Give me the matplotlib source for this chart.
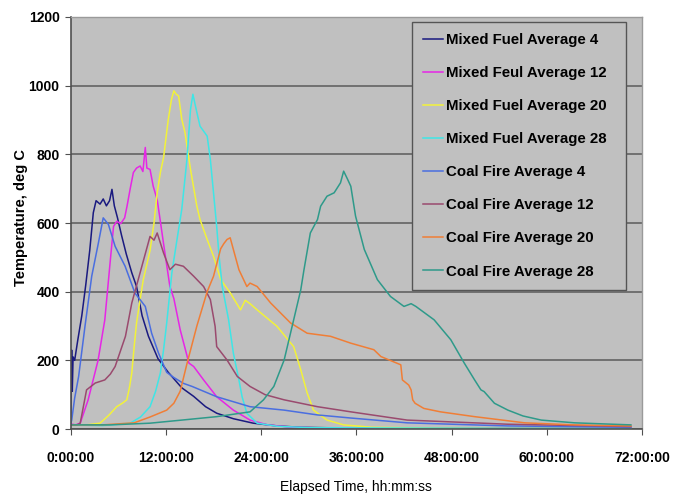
import numpy as np
import matplotlib
matplotlib.use('Agg')
import matplotlib.pyplot as plt

#%%

# Data (hours elapsed, temperature deg C)

mf4_h = [0, 0.12, 0.2, 0.3, 0.5, 0.9, 1.4, 1.9, 2.4, 2.85, 3.2, 3.7, 4.1, 4.5, 4.9, 5.2, 5.5, 5.9, 6.4,
         7.0, 7.7, 8.3, 9.0, 9.8, 11.0, 12.3, 14.0, 15.5, 17.0, 18.4, 20.5, 23.0, 26.0, 29.0, 34.0,
         42.0, 52.0, 62.0, 70.6]
mf4_t = [20, 230, 110, 210, 200, 260, 330, 420, 520, 630, 665, 655, 670, 650, 665, 698, 650, 615, 565,
         510, 455, 415, 330, 270, 205, 165, 120, 95, 65, 46, 30, 17, 9, 5, 3,
         3, 2, 2, 2]

mf12_h = [0, 0.6, 1.2, 2.2, 3.45, 4.3, 5.0, 5.4, 5.8, 6.3, 6.8, 7.1, 7.5, 7.9, 8.3, 8.75, 9.1, 9.4, 9.6,
          10.0, 10.4, 10.9, 11.3, 11.7, 12.5, 13.0, 13.8, 14.9, 15.5, 16.75, 18.4, 20.5, 22.6, 24.8,
          28.0, 34.0, 42.0, 52.0, 62.0, 70.6]
mf12_t = [15, 12, 17, 85, 200, 318, 493, 590, 605, 598, 615, 649, 700, 747, 760, 766, 750, 820, 760,
          756, 707, 668, 605, 540, 415, 380, 289, 192, 182, 143, 94, 55, 26, 12,
          5, 2, 2, 2, 2, 2]

mf20_h = [0, 2.0, 3.7, 4.8, 5.8, 6.5, 7.07, 7.4, 7.7, 8.0, 8.3, 8.7, 9.15, 9.6, 10.0, 10.5, 10.9, 11.3,
          11.7, 12.3, 12.7, 13.0, 13.3, 13.6, 14.0, 14.4, 15.1, 15.9, 16.3, 17.2, 18.0, 18.9, 20.1,
          21.4, 22.0, 22.6, 23.5, 26.0, 28.1, 29.0, 29.8, 30.6, 32.3, 34.4, 38.0, 45.0, 55.0, 70.6]
mf20_t = [12, 12, 17, 40, 65, 75, 85, 120, 163, 240, 309, 370, 435, 480, 520, 600, 688, 747,
          790, 902, 960, 985, 975, 970, 902, 864, 756, 649, 610, 552, 503, 435, 397,
          347, 375, 365, 347, 299, 240, 172, 105, 55, 26, 12, 5, 3, 2, 2]

mf28_h = [0, 4.0, 7.5, 8.8, 10.0, 10.7, 11.3, 11.7, 12.1, 12.75, 13.0, 13.4, 14.0, 14.65, 15.1, 15.4,
          15.9, 16.3, 17.2, 17.6, 18.0, 18.4, 18.7, 19.1, 19.9, 20.5, 21.2, 21.6, 22.2, 23.5, 26.0,
          30.0, 40.0, 55.0, 70.6]
mf28_t = [12, 10, 17, 35, 65, 110, 163, 230, 309, 455, 493, 552, 640, 785, 931, 975,
          922, 882, 853, 785, 688, 590, 503, 415, 318, 221, 143, 94, 46, 17, 8,
          4, 3, 2, 2]

cf4_h = [0, 0.13, 0.5, 1.0, 1.8, 2.65, 3.5, 4.1, 4.75, 5.6, 6.86, 8.1, 9.4, 10.2, 11.07, 12.1, 13.0,
         14.2, 15.3, 18.4, 22.6, 26.9, 31.1, 35.3, 42.4, 55.0, 70.6]
cf4_t = [15, 26, 90, 153, 299, 445, 543, 615, 596, 532, 474, 396, 357, 279, 221, 165, 150,
         133, 124, 94, 65, 55, 41, 32, 18, 9, 5]

cf12_h = [0, 0.8, 1.2, 2.0, 3.1, 4.3, 5.0, 5.6, 6.9, 7.7, 8.97, 10.0, 10.5, 10.9, 11.7, 12.5, 13.2,
          14.2, 15.5, 16.75, 17.6, 18.2, 18.4, 19.7, 21.0, 22.6, 24.5, 26.9, 31.1, 35.3, 42.4, 55.0,
          70.6]
cf12_t = [12, 12, 17, 114, 134, 143, 160, 182, 270, 367, 474, 561, 550, 571, 513, 464, 480,
          474, 445, 415, 377, 299, 240, 201, 153, 124, 100, 85, 65, 50, 26, 14,
          7]

cf20_h = [0, 4.0, 8.0, 10.0, 12.1, 13.0, 13.8, 14.65, 15.9, 17.2, 18.0, 18.9, 19.3, 19.7, 20.1, 20.5,
          21.2, 22.2, 22.6, 23.5, 25.2, 27.7, 29.8, 32.75, 35.3, 38.2, 39.1, 41.6, 41.8, 42.6, 42.9,
          43.1, 43.4, 44.5, 46.6, 50.9, 57.2, 63.5, 70.6]
cf20_t = [12, 12, 18, 35, 55, 75, 110, 190, 300, 400, 445, 525, 540, 552, 557, 523,
          464, 415, 425, 415, 367, 309, 279, 270, 250, 231, 211, 187, 143, 128, 114,
          85, 75, 60, 50, 36, 18, 12, 9]

cf28_h = [0, 5.0, 10.0, 14.0, 18.4, 22.6, 24.3, 25.6, 26.9, 28.1, 29.0, 29.4, 30.2, 31.1, 31.5, 32.3,
          33.2, 34.0, 34.4, 34.9, 35.3, 35.9, 37.0, 38.65, 40.3, 42.0, 42.9, 43.5, 45.8, 47.9, 49.6,
          50.9, 51.7, 52.1, 53.4, 55.1, 57.0, 59.3, 63.5, 70.6]
cf28_t = [12, 12, 17, 26, 36, 50, 85, 124, 201, 318, 406, 464, 571, 610, 649, 678,
          688, 717, 751, 727, 707, 620, 523, 435, 386, 357, 365, 357, 318, 260, 192,
          143, 114, 109, 75, 55, 38, 26, 18, 12]

labels = ['Mixed Fuel Average 4', 'Mixed Feul Average 12', 'Mixed Fuel Average 20',
          'Mixed Fuel Average 28', 'Coal Fire Average 4', 'Coal Fire Average 12',
          'Coal Fire Average 20', 'Coal Fire Average 28']
colors = ['#1a1a80', '#e626e6', '#f2f23a', '#3ee6e6', '#4a6ee0', '#9a4a6e', '#f07e36', '#2e9a8a']

series = [(mf4_h, mf4_t), (mf12_h, mf12_t), (mf20_h, mf20_t), (mf28_h, mf28_t),
          (cf4_h, cf4_t), (cf12_h, cf12_t), (cf20_h, cf20_t), (cf28_h, cf28_t)]

x_ticks = [0, 12, 24, 36, 48, 60, 72]
y_ticks = [0, 200, 400, 600, 800, 1000, 1200]

#%%

fam = ['Liberation Sans', 'DejaVu Sans']

fig = plt.figure(figsize=(6.83, 4.97), dpi=100)
ax = fig.add_axes([0.1035, 0.1368, 0.8365, 0.829])
ax.set_facecolor('#c0c0c0')

for (h, t), lab, c in zip(series, labels, colors):
    ax.plot(h, t, color=c, lw=1.1, label=lab)

ax.set_xlim(0, 72)
ax.set_ylim(0, 1200)
ax.set_xticks(x_ticks)
ax.set_xticklabels(['%d:00:00' % v for v in x_ticks], family=fam, fontsize=10, fontweight='bold')
ax.set_yticks(y_ticks)
ax.set_yticklabels([str(v) for v in y_ticks], family=fam, fontsize=10, fontweight='bold')
ax.tick_params(axis='x', direction='out', length=4, color='#505050', pad=11.5)
ax.tick_params(axis='y', direction='out', length=4, color='#505050', pad=4)

ax.yaxis.grid(True, color='#6a6a6a', lw=1.3)
ax.set_axisbelow(True)
for s in ['left', 'bottom']:
    ax.spines[s].set_color('#505050')
    ax.spines[s].set_linewidth(1.2)
for s in ['top', 'right']:
    ax.spines[s].set_color('#9a9a9a')
    ax.spines[s].set_linewidth(1.0)

# axis titles placed in figure pixels
fig.text(356 / 683, 1 - 487.5 / 497, 'Elapsed Time, hh:mm:ss', family=fam, fontsize=10,
         ha='center', va='center')
fig.text(21 / 683, 1 - 217 / 497, 'Temperature, deg C', family=fam, fontsize=10.5,
         fontweight='bold', rotation=90, ha='center', va='center')

leg = ax.legend(loc='upper left', bbox_to_anchor=(0.597, 0.335, 0.375, 0.653), mode='expand',
                borderaxespad=0, fancybox=False, framealpha=1, facecolor='#c0c0c0',
                edgecolor='#555555', handlelength=1.33, handletextpad=0.2, labelspacing=1.27,
                borderpad=0.75, prop={'family': fam, 'weight': 'bold', 'size': 10.8})
leg.get_frame().set_linewidth(1.0)

fig.savefig('out.png', dpi=100)
